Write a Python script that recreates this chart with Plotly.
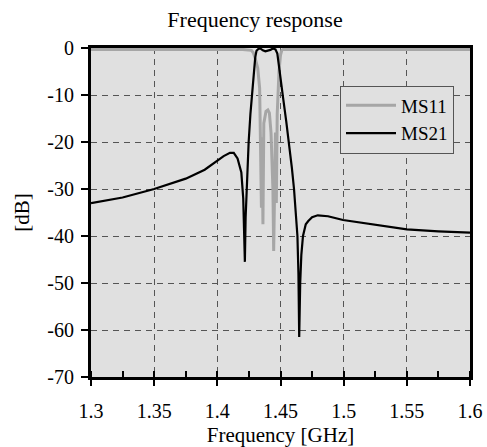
import plotly.graph_objects as go

# ---- data ----
ms21_freq = [1.300, 1.325, 1.350, 1.375, 1.390, 1.400, 1.405, 1.410, 1.413, 1.416,
             1.418, 1.4190, 1.4205, 1.4213, 1.4218, 1.4224, 1.4232, 1.4248, 1.4262, 1.4274,
             1.4290, 1.4300, 1.4310, 1.4325, 1.4340, 1.4360, 1.4380, 1.4400, 1.4420, 1.4440,
             1.4460, 1.4475, 1.4490, 1.4505, 1.4520, 1.4545, 1.4567, 1.4590, 1.4607, 1.4622,
             1.4634, 1.4642, 1.4648, 1.4656, 1.4665, 1.4678, 1.4700, 1.4720, 1.4750, 1.4795,
             1.4876, 1.4995, 1.5233, 1.5500, 1.5750, 1.6000]
ms21_db = [-33.0, -31.8, -30.0, -27.8, -25.9, -24.0, -23.0, -22.3, -22.3, -23.5,
           -25.5, -26.5, -32.0, -40.0, -45.5, -36.0, -29.0, -20.0, -14.0, -10.0,
           -5.0, -2.0, -0.6, -0.2, -0.1, -0.5, -0.7, -0.6, -0.4, -0.1,
           -0.3, -1.2, -4.0, -7.5, -10.5, -15.5, -20.0, -25.5, -30.0, -35.0,
           -40.0, -48.0, -61.5, -50.0, -44.0, -40.0, -37.5, -36.8, -36.0, -35.6,
           -35.8, -36.6, -37.5, -38.6, -39.0, -39.3]

ms11_freq = [1.300, 1.420, 1.427, 1.4285, 1.4300, 1.4320, 1.4335, 1.4342, 1.4349, 1.4354,
             1.4361, 1.4368, 1.4385, 1.4400, 1.4412, 1.4425, 1.4440, 1.4446, 1.4452, 1.4460,
             1.4467, 1.4474, 1.4488, 1.4500, 1.4510, 1.4520, 1.6000]
ms11_db = [-0.3, -0.3, -0.5, -1.0, -2.2, -4.3, -8.6, -18.0, -34.0, -19.0,
           -37.5, -16.0, -13.5, -13.2, -13.8, -18.0, -30.0, -43.2, -28.0, -18.0,
           -33.0, -14.0, -5.0, -1.5, -0.5, -0.3, -0.3]

y_tick_vals = [0, -10, -20, -30, -40, -50, -60, -70]
y_tick_text = ["0", "-10", "-20", "-30", "-40", "-50", "-60", "-70"]
x_tick_vals = [1.3, 1.35, 1.4, 1.45, 1.5, 1.55, 1.6]
x_tick_text = ["1.3", "1.35", "1.4", "1.45", "1.5", "1.55", "1.6"]

FONT = "Liberation Serif"
W, H = 487, 447

fig = go.Figure()
fig.add_trace(go.Scatter(x=ms11_freq, y=ms11_db, mode="lines", name="MS11",
                         line=dict(color="#a6a6a6", width=3)))
fig.add_trace(go.Scatter(x=ms21_freq, y=ms21_db, mode="lines", name="MS21",
                         line=dict(color="black", width=2.2)))

fig.update_layout(
    width=W, height=H,
    margin=dict(l=91, r=17, t=48, b=70, autoexpand=False),
    paper_bgcolor="white",
    plot_bgcolor="#e0e0e0",
    font=dict(family=FONT, size=20, color="black"),
    title=dict(text="Frequency response", x=255 / W, xanchor="center",
               xref="container", yref="container", y=1 - 19 / H, yanchor="middle",
               automargin=False,
               font=dict(family=FONT, size=22, color="black")),
    showlegend=True,
    legend=dict(x=0.657, y=0.886, xanchor="left", yanchor="top",
                bgcolor="#e0e0e0", bordercolor="#555555", borderwidth=1,
                font=dict(family=FONT, size=19, color="black"),
                itemwidth=50, tracegroupgap=0),
)

fig.update_xaxes(
    range=[1.3, 1.6], tickmode="array", tickvals=x_tick_vals, ticktext=x_tick_text,
    automargin=False, ticklabeloverflow="allow",
    tickfont=dict(family=FONT, size=20, color="black"),
    showline=True, linecolor="black", linewidth=3, mirror=True,
    ticks="outside", ticklen=6, tickwidth=2, tickcolor="black",
    ticklabelstandoff=8,
    showgrid=True, gridcolor="#555555", gridwidth=1, griddash="6px,5px",
    zeroline=False,
    minor=dict(dtick=0.025, tick0=1.3, ticks="inside", ticklen=6, tickwidth=2,
               tickcolor="black", showgrid=False),
    title=dict(text="Frequency [GHz]", standoff=12, font=dict(family=FONT, size=21, color="black")),
)
fig.update_yaxes(
    range=[-70, 0], tickmode="array", tickvals=y_tick_vals, ticktext=y_tick_text,
    automargin=False, ticklabeloverflow="allow",
    tickfont=dict(family=FONT, size=20, color="black"),
    showline=True, linecolor="black", linewidth=3, mirror=True,
    ticks="outside", ticklen=7, tickwidth=2, tickcolor="black",
    ticklabelstandoff=3,
    showgrid=True, gridcolor="#555555", gridwidth=1, griddash="6px,5px",
    zeroline=False,
    title=dict(text="[dB]", standoff=12, font=dict(family=FONT, size=21, color="black")),
)

# remove the browser's default 8px body margin so the figure fills the window exactly
fig.write_html("out.html", config={"displayModeBar": False},
               post_script="document.body.style.margin='0';")
